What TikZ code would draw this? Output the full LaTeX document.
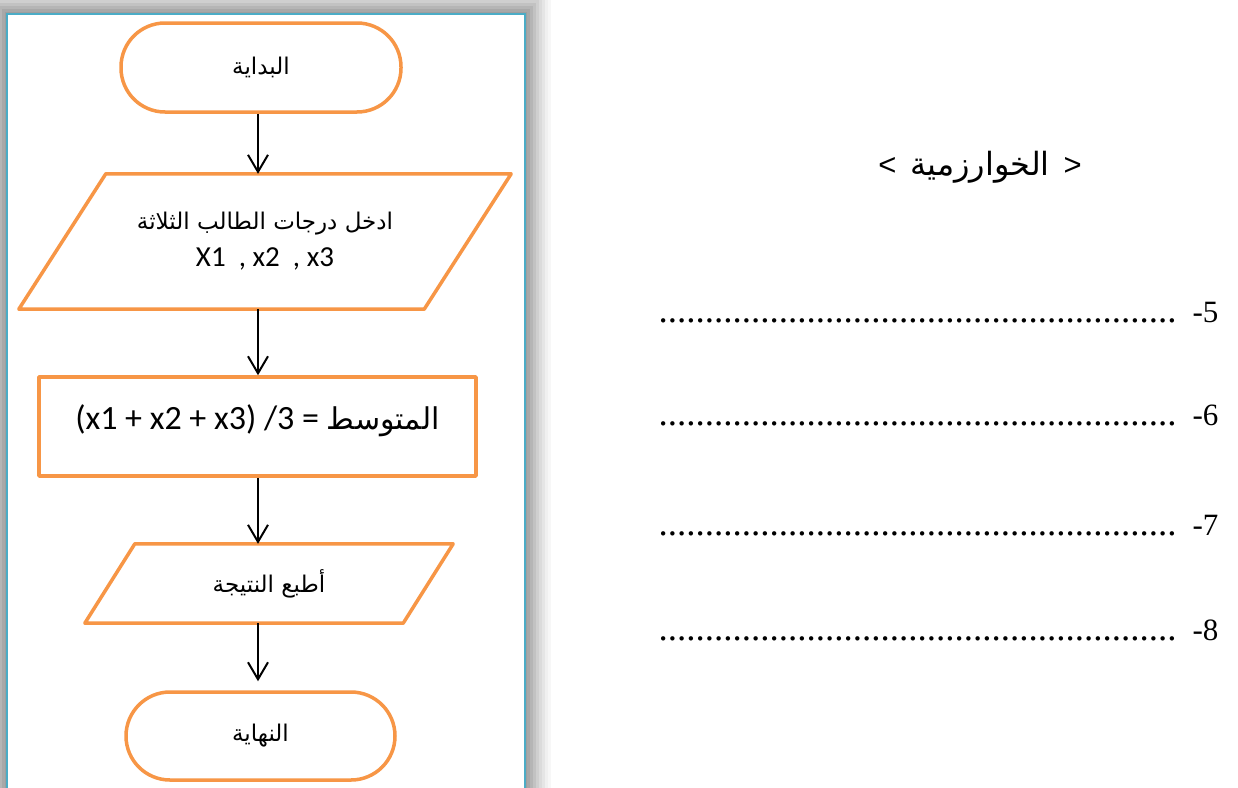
\documentclass[tikz,border=0pt]{standalone}
\usepackage{fontspec}
\setmainfont{Liberation Serif}
\newfontfamily\arabicfont[Script=Arabic]{DejaVu Sans}
\newfontfamily\calfont{Carlito}
\newfontfamily\arialfont{Liberation Sans}
\TeXXeTstate=1
\usetikzlibrary{arrows.meta}
\definecolor{shapeorange}{HTML}{F79646}
\definecolor{framecyan}{HTML}{4BACC6}
\begin{document}
\begin{tikzpicture}[x=1pt,y=-1pt,
  shapeline/.style={draw=shapeorange, line width=3.5pt, line join=round},
  term/.style={shapeline, fill=white, rounded corners=44pt, inner sep=0pt},
  txtbox/.style={inner sep=0pt, align=center},
  arr/.style={line width=2pt, -{Straight Barb[length=17pt,width=20pt]}},
  rownum/.style={anchor=base east, font=\fontsize{31}{36}\selectfont},
  rowdots/.style={anchor=base west, font=\fontsize{37}{40}\selectfont}
]
\path[use as bounding box, clip] (0,0) rectangle (1238,787);
\fill[white] (0,0) rectangle (1238,787);
% shadow around the panel
\foreach \k/\c in {26/3,23/6,20/10,17/14,14/19,11/24,8/29,5/34,2/38} {
  \fill[black!\c] (7-\k,14-\k) rectangle (525+\k,800);
}
\draw[framecyan, line width=2.5pt, fill=white] (7,14) rectangle (525,800);

% flowchart
\node[term, minimum width=280pt, minimum height=89pt] (start) at (261,67.5)
  {\arabicfont\fontsize{23}{26}\selectfont\beginR البداية\endR};

\node[txtbox, minimum width=405pt, minimum height=135pt,
      font=\fontsize{22}{37}\selectfont] (p1) at (265,241.5)
  {{\arabicfont\fontsize{23}{37}\selectfont\beginR ادخل درجات الطالب الثلاثة\endR}\\
   {\calfont\fontsize{29}{37}\selectfont X1\ \ , x2\ \ , x3}};
\draw[shapeline] ([xshift=43.5pt]p1.north west) -- ([xshift=43.5pt]p1.north east)
  -- ([xshift=-43.5pt]p1.south east) -- ([xshift=-43.5pt]p1.south west) -- cycle;

\node[shapeline, rectangle, inner sep=0pt, minimum width=437pt, minimum height=99pt] (calc) at (257.5,426.5)
  {\raisebox{18pt}{\calfont\fontsize{34}{40}\selectfont (x1 + x2 + x3)\ /3 = {\arabicfont\fontsize{30}{36}\selectfont\beginR المتوسط\endR}}};

\node[txtbox, minimum width=318pt, minimum height=79pt] (p2) at (269,583.5)
  {\arabicfont\fontsize{23}{26}\selectfont\beginR أطبع النتيجة\endR};
\draw[shapeline] ([xshift=25pt]p2.north west) -- ([xshift=25pt]p2.north east)
  -- ([xshift=-25pt]p2.south east) -- ([xshift=-25pt]p2.south west) -- cycle;

\node[term, minimum width=269pt, minimum height=88pt] (stop) at (260.5,736)
  {\arabicfont\fontsize{23}{26}\selectfont\beginR النهاية\endR};

\coordinate (ax) at (258,0);
\draw[arr] (start.south -| ax) -- (p1.north -| ax);
\draw[arr] (p1.south -| ax) -- (calc.north -| ax);
\draw[arr] (calc.south -| ax) -- (p2.north -| ax);
\draw[arr, shorten >=9pt] (p2.south -| ax) -- (stop.north -| ax);

% right side
\node (title) at (980,167)
  {{\arialfont\fontsize{31}{36}\selectfont <\ \,}{\arabicfont\fontsize{32}{36}\selectfont\beginR الخوارزمية\endR}{\arialfont\fontsize{31}{36}\selectfont\,\ >}};

\node[rownum] (n5) at (1222,322) {-5};
\node[rowdots] (d5) at (655,322) {........................................................};
\node[rownum] (n6) at (1222,425) {-6};
\node[rowdots] (d6) at (655,425) {........................................................};
\node[rownum] (n7) at (1222,535) {-7};
\node[rowdots] (d7) at (655,535) {........................................................};
\node[rownum] (n8) at (1222,640) {-8};
\node[rowdots] (d8) at (655,640) {........................................................};
\end{tikzpicture}
\end{document}
